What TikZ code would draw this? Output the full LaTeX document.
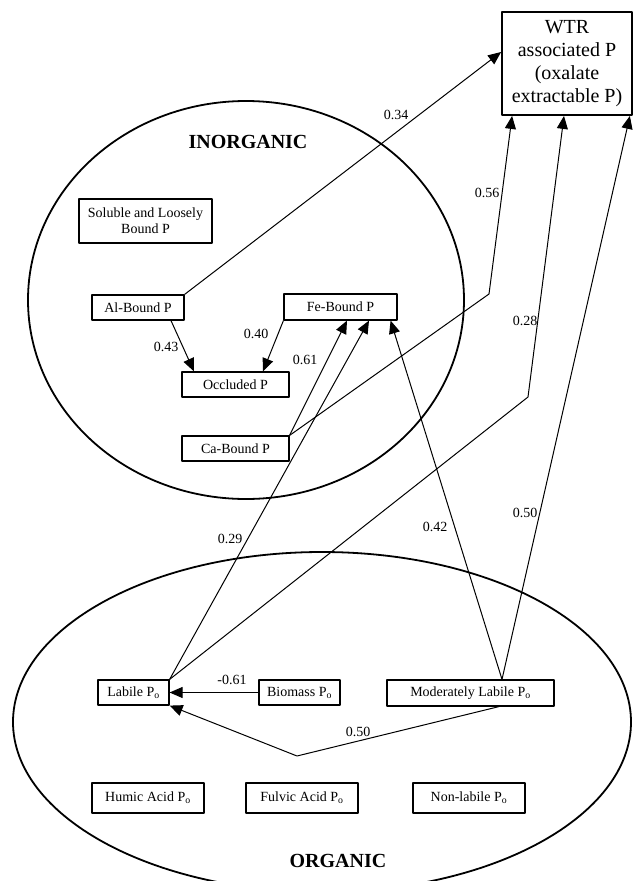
\documentclass[tikz,border=0pt]{standalone}
\usepackage{fontspec}
\setmainfont{Liberation Serif}
\usetikzlibrary{arrows.meta}

\begin{document}
\begin{tikzpicture}[line cap=round,line join=round,>={Triangle[length=13pt,width=11pt]},x=1pt,y=-1pt,
		pbox/.style={draw,line width=1.2pt,inner sep=0pt,font=\fontsize{14}{16}\selectfont,align=center},
		coef/.style={inner sep=0pt,font=\fontsize{14}{16}\selectfont},
		pool/.style={inner sep=0pt,font=\bfseries\fontsize{20}{22}\selectfont},
		link/.style={->,line width=1pt}]
		\clip(0,0) rectangle (633,881);
		\draw [line width=1.8pt] (246,300) ellipse [x radius=218pt,y radius=199pt];
		\draw [line width=1.8pt] (322,722) ellipse [x radius=309pt,y radius=170pt];
		\node[pool] (inorg) at (248,142) {INORGANIC};
		\node[pool] (org) at (338,861) {ORGANIC};
		\node[pbox,line width=1.8pt,minimum width=130pt,minimum height=103pt,font=\fontsize{20}{23}\selectfont] (wtr) at (567,63.5) {WTR\\associated P\\(oxalate\\extractable P)};
		\node[pbox,minimum width=133pt,minimum height=44pt] (soluble) at (145.5,221) {Soluble and Loosely\\Bound P};
		\node[pbox,minimum width=92pt,minimum height=25pt] (albound) at (138,307.5) {Al-Bound P};
		\node[pbox,minimum width=113pt,minimum height=26pt] (febound) at (340.5,307) {Fe-Bound P};
		\node[pbox,minimum width=107pt,minimum height=25pt] (occluded) at (235.5,384.5) {Occluded P};
		\node[pbox,minimum width=107pt,minimum height=25pt] (cabound) at (235.5,448.5) {Ca-Bound P};
		\node[pbox,minimum width=71pt,minimum height=25pt] (labile) at (133.5,692.5) {Labile P\textsubscript{o}};
		\node[pbox,minimum width=81pt,minimum height=25pt] (biomass) at (299.5,692.5) {Biomass P\textsubscript{o}};
		\node[pbox,minimum width=167pt,minimum height=26pt] (modlabile) at (470.5,693) {Moderately Labile P\textsubscript{o}};
		\node[pbox,minimum width=112pt,minimum height=30pt] (humic) at (148,798) {Humic Acid P\textsubscript{o}};
		\node[pbox,minimum width=112pt,minimum height=30pt] (fulvic) at (302,798) {Fulvic Acid P\textsubscript{o}};
		\node[pbox,minimum width=112pt,minimum height=30pt] (nonlabile) at (469,798) {Non-labile P\textsubscript{o}};
		% bends
		\coordinate (bendca) at (489,294);
		\coordinate (bendlab) at (528,397);
		\coordinate (bendmod) at (297,756);
		% paths
		\draw[link] (albound.north east) -- ([yshift=11.5pt]wtr.west);
		\draw[link] ([xshift=33pt]albound.south) -- ([xshift=-41.5pt]occluded.north);
		\draw[link] (febound.south west) -- ([xshift=27.5pt]occluded.north);
		\draw[link] (cabound.north east) -- ([xshift=6.5pt]febound.south);
		\draw[link] (cabound.north east) -- (bendca) -- ([xshift=11pt]wtr.south west);
		\draw[link] (labile.north east) -- ([xshift=28.5pt]febound.south);
		\draw[link] (labile.north east) -- (bendlab) -- ([xshift=-3pt]wtr.south);
		\draw[link] ([xshift=31.5pt]modlabile.north) -- ([xshift=-7pt]febound.south east);
		\draw[link] ([xshift=31.5pt]modlabile.north) -- ([xshift=-3pt]wtr.south east);
		\draw[link] (biomass.west) -- (labile.east);
		\draw[link] ([xshift=28.5pt]modlabile.south) -- (bendmod) -- (labile.south east);
		% coefficients
		\node[coef] (c34) at (396,115) {0.34};
		\node[coef] (c56) at (487,193) {0.56};
		\node[coef] (c43) at (166,347) {0.43};
		\node[coef] (c40) at (256,334) {0.40};
		\node[coef] (c61) at (305,360) {0.61};
		\node[coef] (c28) at (525,321) {0.28};
		\node[coef] (c29) at (230,539) {0.29};
		\node[coef] (c42) at (435,527) {0.42};
		\node[coef] (c50a) at (525,513) {0.50};
		\node[coef] (cbio) at (232,680) {-0.61};
		\node[coef] (c50b) at (358,732) {0.50};
	\end{tikzpicture}
\end{document}
